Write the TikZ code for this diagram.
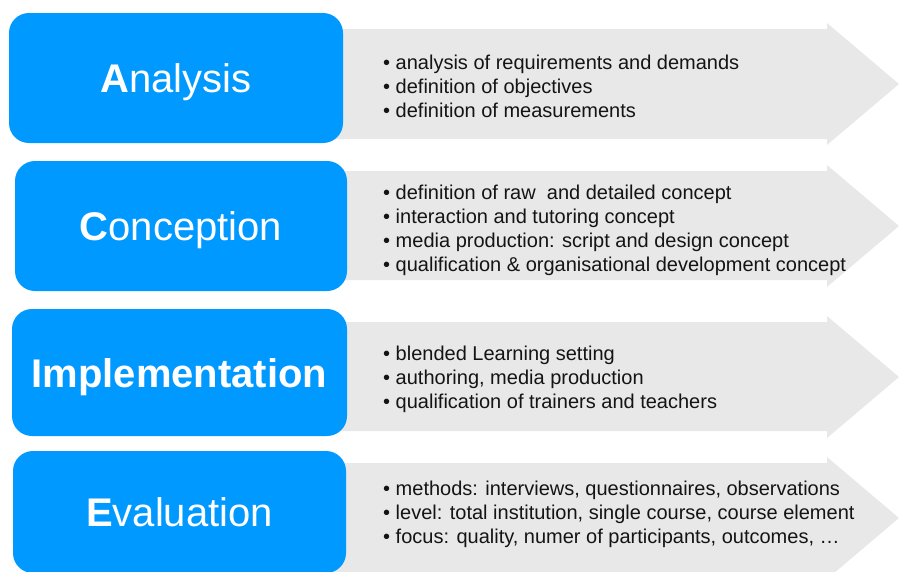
\documentclass[tikz,border=0pt]{standalone}
\usepackage{fontspec}
\setmainfont{Liberation Sans}
\definecolor{boxblue}{RGB}{0,153,255}
\definecolor{arrowgrey}{RGB}{232,232,232}
\definecolor{itemtext}{RGB}{20,20,20}
\begin{document}
\begin{tikzpicture}[x=1pt,y=-1pt,
  phase/.style={fill=boxblue, rounded corners=20pt, minimum width=334pt,
    text=white, font=\fontsize{40}{48}\selectfont, inner sep=0pt, text depth=0pt},
  items/.style={anchor=west, align=left, font=\fontsize{20}{24}\selectfont,
    inner sep=0pt, text=itemtext},
  band/.style={fill=arrowgrey}]
\useasboundingbox (0,0) rectangle (899,571);
\begin{scope}
\clip (0,0) rectangle (899,571);
% grey arrows
\fill[band] (330,29) -- (827,29) -- (827,23) -- (899,84) -- (827,145) -- (827,139) -- (330,139) -- cycle;
\fill[band] (330,171) -- (827,171) -- (827,165) -- (899,226) -- (827,287) -- (827,280) -- (330,280) -- cycle;
\fill[band] (330,322) -- (827,322) -- (827,316) -- (899,377) -- (827,438) -- (827,431) -- (330,431) -- cycle;
\fill[band] (330,463) -- (827,463) -- (827,457) -- (899,518) -- (827,579) -- (827,573) -- (330,573) -- cycle;
% blue phase boxes
\node[phase, minimum height=130pt] (analysis) at (176,78) {\textbf{A}nalysis};
\node[phase, minimum width=332pt, minimum height=130pt] (conception) at (181,226) {\textbf{C}onception};
\node[phase, minimum width=335pt, minimum height=127pt] (implementation) at (179.5,372.5) {\textbf{Implementation}};
\node[phase, minimum width=333pt, minimum height=122pt] (evaluation) at (179.5,512) {\textbf{E}valuation};
\end{scope}
% item lists
\node[items] (analysisitems) at (383,86) {• analysis of requirements and demands\\• definition of objectives\\• definition of measurements};
\node[items] (conceptionitems) at (383,230) {• definition of raw\ \ and detailed concept\\• interaction and tutoring concept\\• media production: script and design concept\\• qualification \& organisational development concept};
\node[items] (implementationitems) at (383,379) {• blended Learning setting\\• authoring, media production\\• qualification of trainers and teachers};
\node[items] (evaluationitems) at (383,514) {• methods: interviews, questionnaires, observations\\• level: total institution, single course, course element\\• focus: quality, numer of participants, outcomes, …};
\end{tikzpicture}
\end{document}
